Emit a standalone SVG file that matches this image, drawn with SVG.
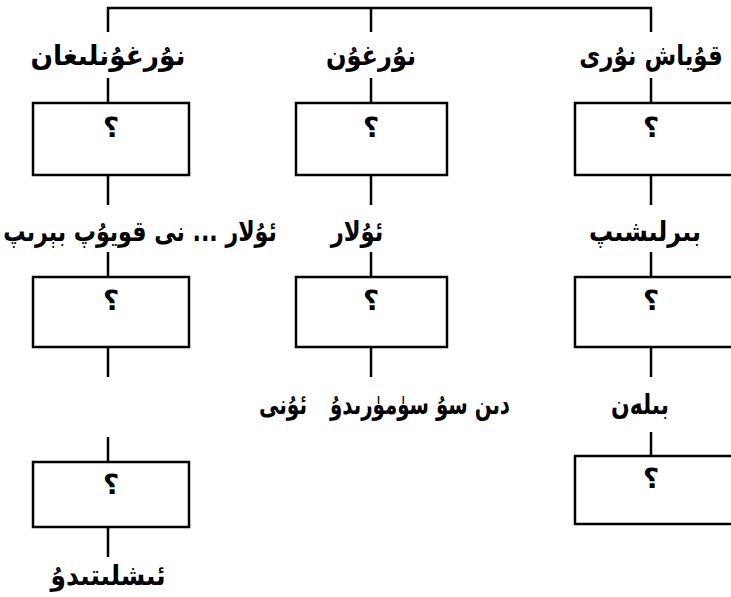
<svg xmlns="http://www.w3.org/2000/svg" width="731" height="597" viewBox="0 0 731 597">
<style>
.lbl{font-family:"DejaVu Sans",sans-serif;font-weight:bold;font-size:28px;fill:#000;text-anchor:middle}
.q{font-family:"DejaVu Sans",sans-serif;font-weight:bold;font-size:28px;fill:#000;text-anchor:middle}
.box{fill:#fff;stroke:#000;stroke-width:2.5}
.ln{stroke:#000;stroke-width:2.5;fill:none}
</style>
<rect width="731" height="597" fill="#fff"/>
<g id="connectors">
<path class="ln" d="M108 32 V8 H651 V32 M371 8 V32"/>
<path class="ln" d="M108 78 V103 M371 78 V103 M651 78 V103"/>
<path class="ln" d="M108 175 V205 M371 175 V205 M651 175 V205"/>
<path class="ln" d="M108 252 V277 M371 252 V277 M651 252 V277"/>
<path class="ln" d="M108 347 V377 M371 347 V377 M651 347 V377"/>
<path class="ln" d="M108 437 V462 M651 432 V456"/>
<path class="ln" d="M108 527 V557"/>
</g>
<g id="label-l1"><text class="lbl" x="108" y="65" textLength="155" lengthAdjust="spacingAndGlyphs">نۇرغۇنلىغان</text></g>
<g id="label-m1"><text class="lbl" x="371" y="65" textLength="90" lengthAdjust="spacingAndGlyphs">نۇرغۇن</text></g>
<g id="label-r1"><text class="lbl" transform="translate(651 65) scale(0.82 1)">قۇياش نۇرى</text></g>
<g id="box-l1"><rect class="box" x="33" y="103" width="156" height="72"/><text class="q" x="111" y="137">؟</text></g>
<g id="box-m1"><rect class="box" x="296" y="103" width="151" height="72"/><text class="q" x="371" y="137">؟</text></g>
<g id="box-r1"><rect class="box" x="575" y="103" width="170" height="72"/><text class="q" x="651" y="137">؟</text></g>
<g id="label-l2"><text class="lbl" transform="translate(140 241) scale(0.79 1)">ئۇلار ... نى قويۇپ بېرىپ</text></g>
<g id="label-m2"><text class="lbl" transform="translate(357 241) scale(0.81 1)">ئۇلار</text></g>
<g id="label-r2"><text class="lbl" x="645" y="241" textLength="112" lengthAdjust="spacingAndGlyphs">بىرلىشىپ</text></g>
<g id="box-l2"><rect class="box" x="33" y="277" width="156" height="70"/><text class="q" x="111" y="310">؟</text></g>
<g id="box-m2"><rect class="box" x="296" y="277" width="151" height="70"/><text class="q" x="371" y="310">؟</text></g>
<g id="box-r2"><rect class="box" x="575" y="277" width="170" height="70"/><text class="q" x="651" y="310">؟</text></g>
<g id="label-l3"><text class="lbl" transform="translate(283 414) scale(0.72 1)">ئۇنى</text></g>
<g id="label-m3"><text class="lbl" x="420" y="414" textLength="180" lengthAdjust="spacingAndGlyphs">دىن سۇ سۈمۈرىدۇ</text></g>
<g id="label-r3"><text class="lbl" x="640" y="414" textLength="58" lengthAdjust="spacingAndGlyphs">بىلەن</text></g>
<g id="box-l3"><rect class="box" x="33" y="462" width="156" height="65"/><text class="q" x="111" y="494">؟</text></g>
<g id="box-r3"><rect class="box" x="575" y="456" width="170" height="68"/><text class="q" x="651" y="488">؟</text></g>
<g id="label-l4"><text class="lbl" x="108" y="585" textLength="115" lengthAdjust="spacingAndGlyphs">ئىشلىتىدۇ</text></g>
</svg>
